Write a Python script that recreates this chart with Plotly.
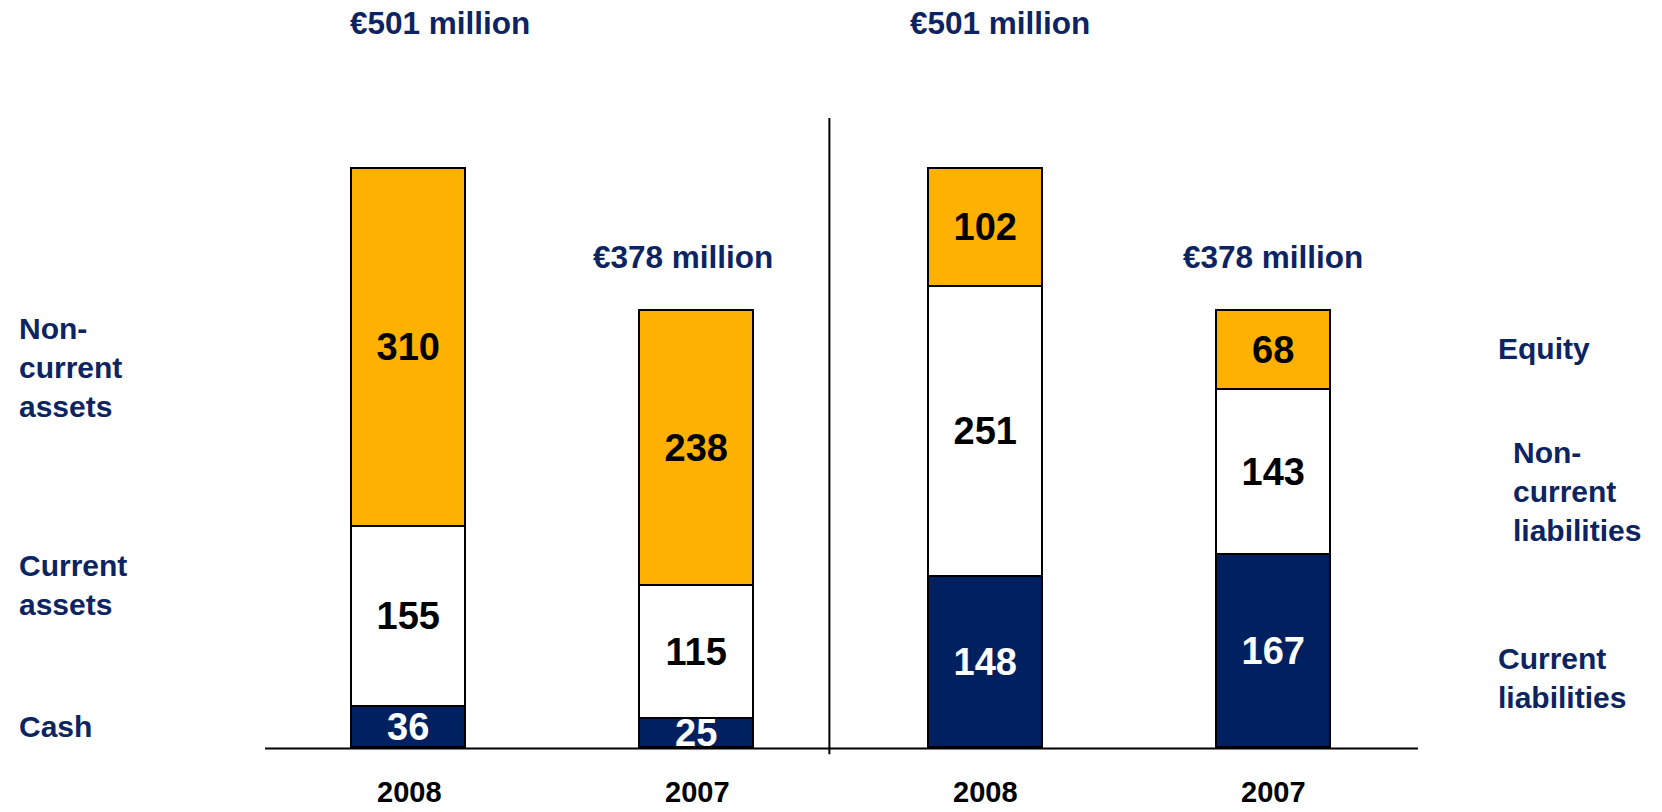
import plotly.graph_objects as go

# ---- data ----
years = ["2008", "2007", "2008", "2007"]
bottom_vals = [36, 25, 148, 167]     # Cash / Current liabilities
middle_vals = [155, 115, 251, 143]   # Current assets / Non-current liabilities
top_vals = [310, 238, 102, 68]       # Non-current assets / Equity
totals_text = ["€501 million", "€378 million", "€501 million", "€378 million"]
left_labels = ["Non-<br>current<br>assets", "Current<br>assets", "Cash"]
right_labels = ["Equity", "Non-<br>current<br>liabilities", "Current<br>liabilities"]

NAVY = "#002060"
TEXT_NAVY = "#0C2462"
ORANGE = "#FFB100"
LABEL_FONT = "Liberation Sans, Arial, sans-serif"
NUM_FONT = "Liberation Sans Narrow, Arial Narrow, Liberation Sans, Arial, sans-serif"

x = list(range(len(years)))
bar_w = 0.396

fig = go.Figure()
for vals, fill, tcolor in [(bottom_vals, NAVY, "white"),
                           (middle_vals, "white", "black"),
                           (top_vals, ORANGE, "black")]:
    fig.add_trace(go.Bar(
        x=x, y=vals, width=bar_w,
        marker=dict(color=fill, line=dict(color="black", width=1.6)),
        text=[str(v) for v in vals],
        textposition="inside", insidetextanchor="middle",
        textangle=0, constraintext="none",
        textfont=dict(family=NUM_FONT, size=38, color=tcolor, weight="bold"),
        hoverinfo="skip", showlegend=False,
    ))

# baseline and divider
fig.add_shape(type="line", xref="paper", yref="y", x0=0, x1=1, y0=0, y1=0,
              line=dict(color="black", width=2))
fig.add_shape(type="line", xref="x", yref="y", x0=1.458, x1=1.458, y0=-5, y1=544.6,
              line=dict(color="black", width=2))

lab_font = dict(family=LABEL_FONT, size=30, color=TEXT_NAVY, weight="bold")
tot_font = dict(family=LABEL_FONT, size=31.5, color=TEXT_NAVY, weight="bold")

# totals
tot_pos = [(0.107, 627), (0.95, 425), (2.05, 627), (2.997, 425)]
for (tx, ty), t in zip(tot_pos, totals_text):
    fig.add_annotation(x=tx, y=ty, xref="x", yref="y", text=t, showarrow=False,
                       xanchor="center", yanchor="middle", font=tot_font)

# year labels
for xi, yr in zip(x, years):
    fig.add_annotation(x=xi, y=-0.067, xref="x", yref="paper", text=yr, showarrow=False,
                       xanchor="center", yanchor="bottom",
                       font=dict(family=NUM_FONT, size=29, color="black", weight="bold"))

# side labels
left_pos = [329, 141.3, 19]
for ty, t in zip(left_pos, left_labels):
    fig.add_annotation(x=-0.215, y=ty, xref="paper", yref="y", text=t, showarrow=False,
                       xanchor="left", yanchor="middle", align="left", font=lab_font)
right_pos = [(1.0676, 345.9), (1.0806, 221.9), (1.0676, 61.2)]
for (tx, ty), t in zip(right_pos, right_labels):
    fig.add_annotation(x=tx, y=ty, xref="paper", yref="y", text=t, showarrow=False,
                       xanchor="left", yanchor="middle", align="left", font=lab_font)

# plot area at x 265..1418, y 10..760 of the 1662x812 window
fig.update_layout(
    width=1662, height=812,
    margin=dict(l=265, r=244, t=10, b=52),
    barmode="stack", bargap=0,
    plot_bgcolor="white", paper_bgcolor="white",
    xaxis=dict(range=[-0.5, 3.5], visible=False, fixedrange=True),
    yaxis=dict(range=[-10, 638], visible=False, fixedrange=True),
)

fig.write_html("out.html", config={"displayModeBar": False},
               post_script="document.body.style.margin='0';document.body.style.padding='0';"
                           "document.body.style.overflow='hidden';")
